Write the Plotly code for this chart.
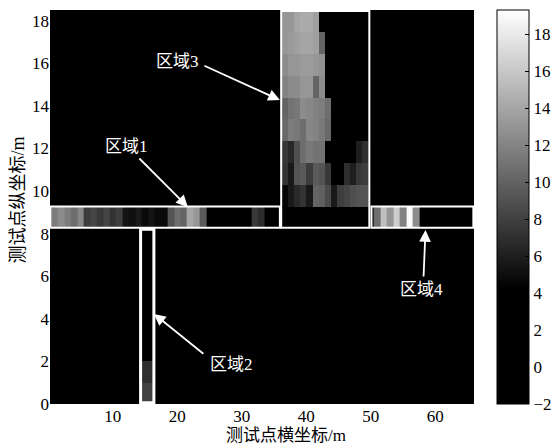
import numpy as np
import plotly.graph_objects as go

# ---------------- data ----------------
x_cols = list(range(1, 66))                      # test-point x index (m)
# row boundaries (m): lower block, strip row, upper block
y_edges = [0, 1, 2, 3, 4, 5, 6, 7, 8.25, 9.25,
           10.28, 11.31, 12.33, 13.36, 14.39, 15.42, 16.44, 17.47, 18.5]

# strip row (region 1 + region 4), one value per column 1..65
strip_vals = [11.6, 12.5, 11.6, 10.7, 12.2, 7.8, 8.3, 7.5, 8.3, 7.2,
              7.8, 5.4, 5.1, 5.7, 4.8, 5.4, 4.8, 4.8, 9.2, 10.7,
              10.1, 14.0, 13.1, 9.5, 0, 0, 0, 0, 0, 0,
              0, 7.6, 6.8, 0, 0, 0, 0, 0, 0, 0,
              0, 0, 0, 0, 0, 0, 0, 0, 0, 0,
              10.7, 15.5, 13.1, 16.3, 11.9, 19.0, 12.5, 0, 0, 0,
              0, 0, 0, 0, 0]

# region 2 (columns 15-16, rows y=0 and y=1)
region2_cols = [15, 16]
region2_vals = [8.0, 6.9]

# region 3 (14 sub-columns, rows y=10 .. y=18, bottom to top)
region3_vals = [
    [4.5, 5.7, 6.6, 7.2, 5.7, 10.1, 9.8, 8.6, 5.7, 7.8, 8.3, 8.9, 9.2, 9.2],
    [7.2, 5.7, 9.2, 9.5, 7.8, 9.5, 9.2, 7.5, 0, 0, 6.9, 6.0, 7.5, 7.8],
    [7.4, 6.6, 8.9, 10.7, 11.3, 11.0, 11.0, 0, 0, 0, 0, 0, 6.0, 6.9],
    [10.4, 11.6, 11.3, 10.7, 12.2, 11.9, 11.3, 10.4, 0, 0, 0, 0, 0, 0],
    [10.1, 11.0, 11.3, 12.5, 12.2, 11.9, 11.6, 10.7, 0, 0, 0, 0, 0, 0],
    [11.9, 12.5, 12.5, 13.1, 13.1, 10.1, 12.5, 0, 0, 0, 0, 0, 0, 0],
    [12.5, 13.1, 13.1, 13.4, 13.4, 13.1, 12.8, 0, 0, 0, 0, 0, 0, 0],
    [13.1, 13.4, 13.7, 14.0, 14.0, 13.7, 10.1, 0, 0, 0, 0, 0, 0, 0],
    [13.1, 13.1, 14.0, 14.3, 14.3, 13.6, 0, 0, 0, 0, 0, 0, 0, 0],
]

y_ticks = list(range(0, 19, 2))
x_ticks = list(range(10, 61, 10))
cb_ticks = list(range(-2, 19, 2))
c_min, c_max = -2, 19.3

# ---------------- build grid ----------------
n_rows = len(y_edges) - 1
z_main = np.zeros((n_rows, len(x_cols)))
z_main[8, :] = strip_vals
for r, v in enumerate(region2_vals):
    for c in region2_cols:
        z_main[r, c - 1] = v
x_edges = np.arange(0.5, len(x_cols) + 1, 1.0)

r3_x_edges = np.linspace(36.16, 49.7, len(region3_vals[0]) + 1)
r3_y_edges = y_edges[9:]

serif = "Liberation Serif, Noto Sans CJK SC"
scale = [[0, "black"], [(4.2 - c_min) / (c_max - c_min), "black"], [1, "white"]]

fig = go.Figure()
fig.add_trace(go.Heatmap(z=z_main, x=x_edges, y=y_edges, coloraxis="coloraxis",
                         hoverinfo="skip"))
fig.add_trace(go.Heatmap(z=region3_vals, x=r3_x_edges, y=r3_y_edges,
                         coloraxis="coloraxis", hoverinfo="skip"))

boxes = [
    (0.34, 8.28, 35.9, 9.27, 2),
    (36.1, 8.27, 49.77, 18.45, 2),
    (50.1, 8.28, 65.9, 9.27, 2),
    (14.3, 0.06, 16.36, 8.2, 3),
]
for x0, y0, x1, y1, w in boxes:
    fig.add_shape(type="rect", x0=x0, y0=y0, x1=x1, y1=y1, xref="x", yref="y",
                  line=dict(color="white", width=w), layer="above")

labels = [
    ("区域3", 20.0, 16.06, 35.9, 14.27, -77, -35),
    ("区域1", 12.1, 12.1, 21.63, 9.25, -50, -50),
    ("区域2", 28.4, 1.85, 16.36, 4.23, 51, 41),
    ("区域4", 57.9, 5.38, 58.48, 8.17, -2, 48),
]
for txt, tx, ty, hx, hy, ax, ay in labels:
    fig.add_annotation(x=tx, y=ty, text=txt, showarrow=False,
                       xanchor="center", yanchor="middle",
                       font=dict(family=serif, size=17, color="white"))
    fig.add_annotation(x=hx, y=hy, ax=ax, ay=ay, text="", showarrow=True,
                       arrowhead=2, arrowsize=1.3, arrowwidth=1.8,
                       arrowcolor="white", standoff=0, startstandoff=0)

fig.add_annotation(xref="paper", yref="paper", x=(286 - 50) / 424, y=-(435 - 404) / 394,
                   xanchor="center", yanchor="middle",
                   text="测试点横坐标/m", showarrow=False,
                   font=dict(family=serif, size=17, color="black"))
fig.add_annotation(xref="paper", yref="paper", x=-(50 - 17.5) / 424, y=(404 - 200) / 394,
                   xanchor="center", yanchor="middle",
                   text="测试点纵坐标/m", showarrow=False, textangle=-90,
                   font=dict(family=serif, size=18, color="black"))

fig.update_layout(
    width=557, height=445,
    margin=dict(l=50, r=83, t=10, b=41, autoexpand=False),
    paper_bgcolor="white", plot_bgcolor="black",
    showlegend=False,
    font=dict(family=serif, size=17, color="black"),
    coloraxis=dict(
        cmin=c_min, cmax=c_max, colorscale=scale,
        colorbar=dict(thickness=32, x=(497 - 50) / 424, xanchor="left", xpad=0,
                      y=0.5, yanchor="middle", len=1, lenmode="fraction", ypad=0,
                      outlinecolor="black", outlinewidth=1,
                      tickvals=cb_ticks, ticks="inside", ticklen=4, tickcolor="black",
                      tickfont=dict(family=serif, size=17, color="black")),
    ),
    xaxis=dict(range=[0.25, 66], tickvals=x_ticks, showgrid=False, zeroline=False,
               showline=False, ticks="", automargin=False,
               tickfont=dict(family=serif, size=17)),
    yaxis=dict(range=[0, 18.5], tickvals=y_ticks, showgrid=False, zeroline=False,
               showline=False, ticks="", automargin=False,
               tickfont=dict(family=serif, size=17)),
)

fig.write_html("out.html", config={"displayModeBar": False},
               post_script="document.body.style.margin='0';document.body.style.overflow='hidden';")
